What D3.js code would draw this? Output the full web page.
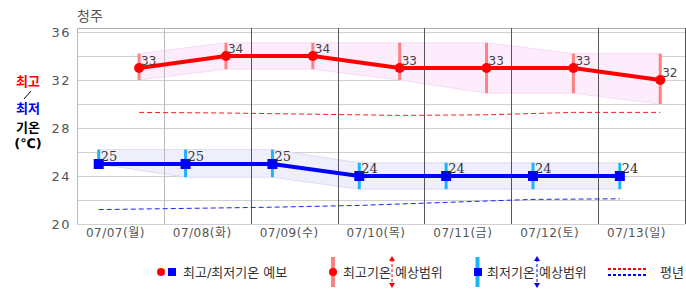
<!DOCTYPE html>
<html>
<head>
<meta charset="utf-8">
<script src="https://cdn.jsdelivr.net/npm/d3@7"></script>
<style>
  body { margin: 0; background: #fff; }
  text { font-family: "DejaVu Sans", "Noto Sans CJK KR", sans-serif; }
</style>
</head>
<body>
<div id="chart"></div>
<script>
// data
var days = ["07/07(월)", "07/08(화)", "07/09(수)", "07/10(목)", "07/11(금)", "07/12(토)", "07/13(일)"];
var highs = [33, 34, 34, 33, 33, 33, 32];
var lows = [25, 25, 25, 24, 24, 24, 24];
var highMin = [32.0, 32.9, 32.9, 32.0, 30.9, 30.9, 30.0];
var highMax = [34.2, 35.1, 35.1, 35.1, 35.1, 34.2, 34.2];
var lowMin = [25.0, 23.9, 23.9, 22.9, 22.9, 22.9, 22.9];
var lowMax = [26.2, 26.2, 26.2, 25.1, 25.1, 25.1, 25.1];
var normHigh = [29.3, 29.25, 29.15, 29.05, 29.1, 29.3, 29.3];
var normLow = [21.2, 21.3, 21.4, 21.55, 21.8, 22.05, 22.1];
var yTicks = [20, 24, 28, 32, 36];
var yGrid = [20, 22, 24, 26, 28, 30, 32, 34, 36];

var width = 686, height = 295;
var margin = {top: 28, right: 1, bottom: 71, left: 77};

var svg = d3.select("#chart")
  .append("svg")
    .attr("width", width)
    .attr("height", height);

var x = d3.scaleBand()
  .domain(days)
  .range([margin.left, width - margin.right])
  .padding(0);
var bw = x.bandwidth();

var y = d3.scaleLinear()
  .domain([20, 36])
  .range([224, 32]);

function xl(i) { return x(days[i]) + bw * 0.25; }
function xh(i) { return x(days[i]) + bw * 0.715; }
var idx = d3.range(days.length);

// title
svg.append("text")
  .attr("x", 77).attr("y", 21)
  .attr("font-size", 14).attr("fill", "#555")
  .text("청주");

// horizontal grid
svg.selectAll(".hgrid")
  .data(yGrid)
  .enter().append("line")
    .attr("x1", margin.left).attr("x2", width - margin.right)
    .attr("y1", d => y(d) + 0.5).attr("y2", d => y(d) + 0.5)
    .attr("stroke", "#d0d0d0");
svg.append("line")
  .attr("x1", margin.left).attr("x2", width - margin.right)
  .attr("y1", margin.top + 0.5).attr("y2", margin.top + 0.5)
  .attr("stroke", "#b0b0b0");

// range bands (filled areas)
var highArea = d3.area()
  .x(i => xh(i))
  .y0(i => y(highMin[i]))
  .y1(i => y(highMax[i]));
svg.append("path")
  .datum(idx)
  .attr("d", highArea)
  .attr("fill", "#fcecfc")
  .attr("stroke", "#f6dcf6")
  .attr("stroke-width", 1);

var lowArea = d3.area()
  .x(i => xl(i))
  .y0(i => y(lowMin[i]))
  .y1(i => y(lowMax[i]));
svg.append("path")
  .datum(idx)
  .attr("d", lowArea)
  .attr("fill", "#efeffc")
  .attr("stroke", "#dcdcf6")
  .attr("stroke-width", 1);

// vertical separators
svg.selectAll(".vgrid")
  .data(d3.range(days.length + 1))
  .enter().append("line")
    .attr("x1", i => Math.round(margin.left + i * bw) + 0.5)
    .attr("x2", i => Math.round(margin.left + i * bw) + 0.5)
    .attr("y1", margin.top).attr("y2", 224)
    .attr("stroke", i => (i <= 1 ? "#bbbbbb" : "#555555"));

// y axis labels
svg.selectAll(".ytick")
  .data(yTicks)
  .enter().append("text")
    .attr("x", 71).attr("y", d => y(d) + 5)
    .attr("text-anchor", "end")
    .attr("font-size", 13).attr("fill", "#555")
    .attr("letter-spacing", 1.5)
    .text(d => d);

// x axis labels
svg.selectAll(".xtick")
  .data(days)
  .enter().append("text")
    .attr("x", d => x(d) + bw / 2 - 5)
    .attr("y", 237)
    .attr("text-anchor", "middle")
    .attr("font-size", 12).attr("fill", "#555")
    .attr("letter-spacing", 0.5)
    .text(d => d);

// normal lines
svg.append("path")
  .datum(idx)
  .attr("d", d3.line().x(i => xh(i)).y(i => y(normHigh[i])))
  .attr("fill", "none").attr("stroke", "#ff2020")
  .attr("stroke-width", 1).attr("stroke-dasharray", "5,3");
svg.append("path")
  .datum(idx)
  .attr("d", d3.line().x(i => xl(i)).y(i => y(normLow[i])))
  .attr("fill", "none").attr("stroke", "#2020ff")
  .attr("stroke-width", 1).attr("stroke-dasharray", "5,3");

// range bars
svg.selectAll(".hbar")
  .data(idx)
  .enter().append("line")
    .attr("x1", i => xh(i)).attr("x2", i => xh(i))
    .attr("y1", i => y(highMax[i])).attr("y2", i => y(highMin[i]))
    .attr("stroke", "#ff8080").attr("stroke-width", 3);
svg.selectAll(".lbar")
  .data(idx)
  .enter().append("line")
    .attr("x1", i => xl(i)).attr("x2", i => xl(i))
    .attr("y1", i => y(lowMax[i])).attr("y2", i => y(lowMin[i]))
    .attr("stroke", "#1ab4ff").attr("stroke-width", 3);

// forecast lines
svg.append("path")
  .datum(idx)
  .attr("d", d3.line().x(i => xh(i)).y(i => y(highs[i])))
  .attr("fill", "none").attr("stroke", "#ff0000").attr("stroke-width", 4);
svg.append("path")
  .datum(idx)
  .attr("d", d3.line().x(i => xl(i)).y(i => y(lows[i])))
  .attr("fill", "none").attr("stroke", "#0000ff").attr("stroke-width", 4);

svg.selectAll(".hdot")
  .data(idx)
  .enter().append("circle")
    .attr("cx", i => xh(i)).attr("cy", i => y(highs[i]))
    .attr("r", 5).attr("fill", "#ff0000");
svg.selectAll(".ldot")
  .data(idx)
  .enter().append("rect")
    .attr("x", i => xl(i) - 5).attr("y", i => y(lows[i]) - 5)
    .attr("width", 10).attr("height", 10).attr("fill", "#0000ff");

// value labels
svg.selectAll(".hlab")
  .data(idx)
  .enter().append("text")
    .attr("x", i => xh(i) + 2).attr("y", i => y(highs[i]) - 3)
    .attr("font-size", 12).attr("fill", "#444")
    .text(i => highs[i]);
svg.selectAll(".llab")
  .data(idx)
  .enter().append("text")
    .attr("x", i => xl(i) + 2).attr("y", i => y(lows[i]) - 3)
    .attr("font-size", 13).attr("fill", "#333")
    .style("font-family", "'DejaVu Serif', serif")
    .text(i => lows[i]);

// y title
var yt = svg.append("g").attr("font-size", 13).attr("font-weight", "bold")
  .attr("text-anchor", "middle");
yt.append("text").attr("x", 28).attr("y", 86).attr("fill", "#ff0000").text("최고");
yt.append("line").attr("x1", 24).attr("y1", 99).attr("x2", 31).attr("y2", 91)
  .attr("stroke", "#000").attr("stroke-width", 1);
yt.append("text").attr("x", 28).attr("y", 113).attr("fill", "#0000ff").text("최저");
yt.append("text").attr("x", 28).attr("y", 132).attr("fill", "#000").text("기온");
yt.append("text").attr("x", 28).attr("y", 148).attr("fill", "#000").text("(℃)");

// legend
var lg = svg.append("g").attr("font-size", 13).attr("fill", "#333");
lg.append("circle").attr("cx", 161).attr("cy", 272).attr("r", 4).attr("fill", "#ff0000");
lg.append("rect").attr("x", 168).attr("y", 268).attr("width", 8).attr("height", 8).attr("fill", "#0000ff");
lg.append("text").attr("x", 183).attr("y", 277).text("최고/최저기온 예보");

lg.append("line").attr("x1", 333).attr("x2", 333).attr("y1", 257).attr("y2", 287)
  .attr("stroke", "#ff8080").attr("stroke-width", 4);
lg.append("circle").attr("cx", 333).attr("cy", 272).attr("r", 4).attr("fill", "#ff0000");
lg.append("text").attr("x", 343).attr("y", 277).text("최고기온 예상범위");

lg.append("line").attr("x1", 477.5).attr("x2", 477.5).attr("y1", 257).attr("y2", 287)
  .attr("stroke", "#1ab4ff").attr("stroke-width", 4);
lg.append("rect").attr("x", 474).attr("y", 268).attr("width", 8).attr("height", 8).attr("fill", "#0000ff");
lg.append("text").attr("x", 487).attr("y", 277).text("최저기온 예상범위");

function arrow(cx, color) {
  lg.append("line").attr("x1", cx).attr("x2", cx).attr("y1", 259).attr("y2", 285)
    .attr("stroke", color).attr("stroke-width", 1).attr("stroke-dasharray", "3,2");
  lg.append("path").attr("d", `M${cx - 3},261L${cx},256L${cx + 3},261Z`).attr("fill", color);
  lg.append("path").attr("d", `M${cx - 3},283L${cx},288L${cx + 3},283Z`).attr("fill", color);
}
arrow(392, "#ff0000");
arrow(537, "#0000ff");

lg.append("line").attr("x1", 608).attr("x2", 648).attr("y1", 269).attr("y2", 269)
  .attr("stroke", "#ff0000").attr("stroke-width", 2).attr("stroke-dasharray", "3,2");
lg.append("line").attr("x1", 608).attr("x2", 648).attr("y1", 275).attr("y2", 275)
  .attr("stroke", "#0000ff").attr("stroke-width", 2).attr("stroke-dasharray", "3,2");
lg.append("text").attr("x", 660).attr("y", 277).text("평년");
</script>
</body>
</html>
